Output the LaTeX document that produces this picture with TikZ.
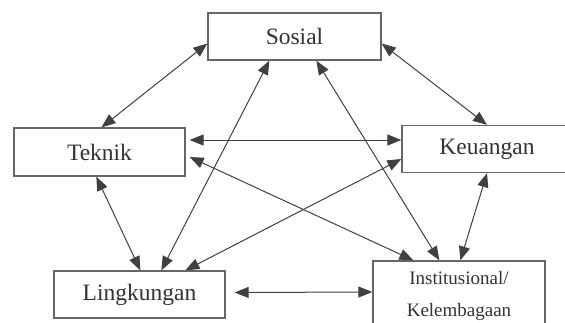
\documentclass[tikz,border=0pt]{standalone}
\usepackage{fontspec}
\setmainfont{Liberation Serif}
\usetikzlibrary{positioning}
\usetikzlibrary{arrows.meta}
\tikzset{
    aspect/.style = {rectangle, draw=black!60, line width=1.3pt, fill=white,
        text=black!80, inner sep=0pt, minimum width=171pt, minimum height=47pt,
        font=\fontsize{23.5}{28}\selectfont},
    smalltext/.style = {font=\fontsize{19}{32}\selectfont, align=center}}

\begin{document}
\begin{tikzpicture}[x=1pt, y=-1pt, on grid,
    link/.style = {{Triangle[length=14pt,width=11pt]}-{Triangle[length=14pt,width=11pt]},
        draw=black!75, line width=1pt}
    ]
    \clip (0,0) rectangle (565,322);
    \node[aspect, minimum width=173pt] (S) at (294.5,36.5) {Sosial};
    \node[aspect, minimum height=48pt] (T) [below left = 115.5pt and 195pt of S] {Teknik};
    \node[aspect, minimum width=170pt] (K) [below right = 112.5pt and 192.5pt of S] {Keuangan};
    \node[aspect] (L) [below right = 142.5pt and 40pt of T] {Lingkungan};
    \node[aspect, smalltext, minimum width=172pt, minimum height=70pt] (I)
        [below left = 147pt and 28pt of K] {Institusional/\\Kelembagaan};
    % links between the aspects
    \draw[link] ([yshift=-7pt]S.west) -- ([xshift=2pt]T.north);
    \draw[link] ([yshift=-7pt]S.east) -- (K.north);
    \draw[link] ([xshift=4pt,yshift=12pt]T.east) -- ([yshift=9pt]K.west);
    \draw[link] ([xshift=4pt,yshift=-5pt]T.east) -- ([xshift=41pt]I.north west);
    \draw[link] ([yshift=-10pt]K.west) -- ([xshift=132pt]L.north west);
    \draw[link] ([xshift=62pt]S.south west) -- ([xshift=108pt]L.north west);
    \draw[link] ([xshift=109pt]S.south west) -- ([xshift=67pt]I.north west);
    \draw[link] (K.south) -- ([xshift=88pt]I.north west);
    \draw[link] ([xshift=83pt]T.south west) -- ([xshift=87pt]L.north west);
    \draw[link] ([xshift=9pt,yshift=2pt]L.east) -- ([yshift=4pt]I.west);
\end{tikzpicture}
\end{document}
